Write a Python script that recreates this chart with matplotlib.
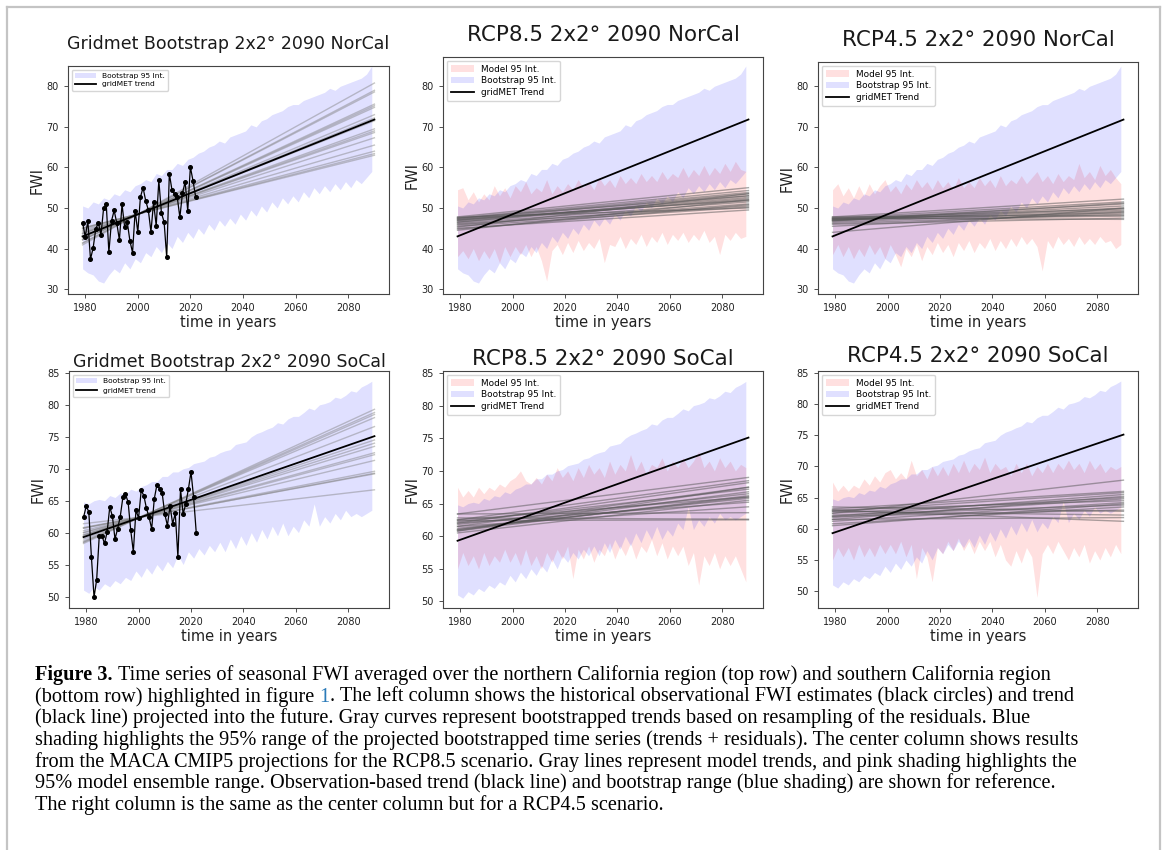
import numpy as np
import matplotlib
matplotlib.use("Agg")
import matplotlib.pyplot as plt

# ---------------- data ----------------
band_years = np.arange(1979, 2090, 2)        # 1979 .. 2089
obs_years = np.arange(1979, 2023)            # 1979 .. 2022
trend_years = [1979, 2090]

obs_norcal = [46.4, 42.9, 46.8, 37.4, 40.1, 44.8, 46.4, 43.4, 50.0, 50.9, 39.1, 46.8, 49.4, 46.3, 42.1,
              50.9, 45.3, 46.5, 41.9, 39.0, 49.3, 44.0, 52.7, 55.0, 51.8, 49.5, 44.1, 51.4, 45.6, 56.8,
              48.7, 46.6, 37.8, 58.5, 54.4, 53.4, 52.7, 47.7, 53.7, 56.4, 49.3, 60.1, 56.7, 52.8]
obs_socal = [62.4, 64.1, 63.3, 56.2, 49.9, 52.6, 59.5, 59.5, 58.3, 60.1, 64.0, 62.6, 59.0, 60.6, 62.5,
             65.5, 66.0, 64.8, 60.4, 57.0, 63.5, 62.3, 66.6, 65.8, 63.8, 62.4, 60.6, 65.3, 67.5, 66.9,
             66.2, 62.9, 61.1, 64.2, 61.4, 63.0, 56.2, 66.8, 62.9, 64.5, 66.8, 69.5, 65.5, 60.0]

trend_norcal = [43.0, 71.8]
trend_socal = [59.3, 75.1]

boot_norcal_hi = [50.5, 50.0, 51.5, 51.0, 52.5, 52.0, 53.5, 53.0, 54.5, 54.0, 55.5, 56.0, 57.0, 56.5,
                  58.5, 58.0, 59.5, 59.5, 61.0, 60.5, 62.0, 62.5, 63.5, 64.0, 65.0, 65.5, 66.5, 66.0,
                  67.5, 68.0, 68.5, 69.0, 70.5, 70.0, 71.5, 72.0, 73.0, 73.5, 74.0, 75.0, 75.5, 75.5,
                  76.5, 77.0, 77.5, 78.0, 78.5, 79.5, 79.0, 80.0, 80.5, 81.0, 81.5, 82.0, 83.0, 85.0]
boot_norcal_lo = [35.0, 34.0, 33.5, 32.0, 31.5, 33.5, 35.0, 34.0, 36.5, 35.0, 37.5, 36.5, 39.0, 38.0,
                  40.5, 39.0, 41.5, 40.0, 43.0, 41.5, 44.0, 42.5, 45.0, 43.5, 46.0, 44.5, 47.0, 45.5,
                  47.5, 46.0, 48.5, 47.0, 49.5, 48.0, 50.5, 49.0, 51.5, 50.0, 52.5, 51.0, 53.0, 51.5,
                  54.0, 52.5, 55.0, 53.5, 55.5, 54.0, 56.0, 54.5, 56.5, 55.0, 57.0, 56.0, 57.5, 59.0]
boot_socal_hi = [64.8, 64.5, 65.0, 65.2, 65.0, 65.8, 65.5, 66.2, 66.0, 66.8, 66.5, 67.2, 67.5, 68.0,
                 68.0, 68.8, 68.8, 69.5, 69.5, 70.0, 70.2, 70.8, 71.0, 71.2, 71.8, 72.0, 72.5, 72.8,
                 73.0, 73.8, 74.0, 74.2, 75.0, 75.5, 75.8, 76.2, 76.5, 77.2, 77.0, 77.8, 78.2, 78.2,
                 78.8, 79.5, 79.2, 80.0, 80.2, 80.5, 81.2, 81.0, 81.5, 82.2, 82.0, 82.8, 83.2, 83.7]
boot_socal_lo = [51.0, 50.5, 51.5, 51.0, 52.0, 51.5, 52.5, 52.0, 53.0, 52.5, 54.0, 53.0, 54.5, 53.5,
                 55.0, 54.0, 55.5, 54.5, 56.5, 55.0, 57.0, 56.0, 57.5, 56.5, 58.0, 57.0, 58.5, 57.0,
                 59.0, 57.5, 59.5, 58.0, 60.0, 58.5, 60.5, 59.0, 61.0, 59.5, 61.5, 59.5, 61.0, 60.0,
                 62.0, 61.0, 64.5, 61.0, 62.5, 61.5, 63.0, 62.0, 63.5, 62.5, 63.0, 62.5, 63.0, 63.5]

rcp85_norcal_hi = [54.5, 55.0, 52.0, 54.0, 51.5, 53.5, 52.0, 55.5, 53.0, 55.0, 52.5, 55.5, 54.0, 56.5,
                   53.5, 55.0, 54.0, 57.0, 53.5, 55.5, 54.0, 56.0, 54.5, 57.0, 55.0, 56.5, 54.5, 57.5,
                   55.5, 57.0, 55.0, 58.0, 56.0, 57.5, 56.0, 58.5, 56.5, 58.0, 56.5, 59.0, 57.0, 58.5,
                   57.5, 60.0, 57.5, 59.5, 58.0, 60.5, 58.0, 60.0, 58.5, 61.0, 59.0, 61.5, 59.5, 59.0]
rcp85_norcal_lo = [38.0, 39.5, 37.5, 40.0, 37.0, 39.5, 37.5, 40.0, 36.5, 40.5, 38.0, 40.5, 38.5, 41.0,
                   38.0, 40.5, 37.0, 32.0, 39.5, 41.0, 38.5, 41.5, 39.0, 42.0, 39.5, 41.5, 40.0, 42.5,
                   36.5, 41.0, 40.5, 43.0, 40.0, 42.5, 41.0, 43.5, 40.5, 43.0, 41.5, 44.0, 41.0, 43.5,
                   42.0, 44.0, 41.5, 43.5, 42.0, 44.5, 41.5, 43.0, 38.5, 43.5, 42.0, 44.0, 42.5, 43.0]
rcp45_norcal_hi = [54.5, 56.0, 53.0, 55.0, 52.5, 55.5, 53.0, 56.0, 53.5, 55.5, 57.0, 54.0, 55.5, 53.5,
                   56.0, 54.5, 57.0, 55.0, 56.5, 54.5, 57.0, 55.0, 56.5, 54.5, 57.5, 55.0, 56.5, 55.0,
                   57.5, 55.5, 57.0, 55.0, 58.0, 55.5, 57.0, 56.0, 58.0, 56.0, 57.5, 59.0, 56.5, 58.0,
                   56.0, 58.5, 56.5, 58.0, 57.0, 61.0, 57.5, 59.0, 57.0, 60.5, 58.0, 59.5, 57.5, 56.0]
rcp45_norcal_lo = [38.5, 41.0, 38.0, 40.5, 37.5, 40.0, 38.0, 41.0, 38.5, 40.5, 37.5, 41.0, 38.5, 35.5,
                   40.0, 38.0, 41.0, 37.0, 40.5, 38.5, 41.5, 39.0, 41.0, 38.0, 41.5, 39.5, 42.0, 39.0,
                   41.5, 40.0, 42.5, 39.5, 42.0, 40.0, 42.5, 40.5, 43.0, 41.0, 42.5, 40.5, 34.5, 42.0,
                   40.0, 43.0, 41.0, 42.5, 40.5, 43.0, 41.0, 42.5, 41.0, 43.0, 41.5, 42.0, 40.0, 41.0]
rcp85_socal_hi = [67.5, 66.0, 67.0, 66.0, 67.5, 66.5, 67.5, 67.0, 68.0, 67.5, 68.5, 69.0, 70.0, 68.5,
                  68.0, 69.0, 68.0, 69.5, 68.5, 70.5, 69.0, 70.0, 68.5, 70.5, 69.0, 71.0, 69.5, 70.5,
                  69.0, 71.5, 69.5, 71.0, 70.0, 72.5, 70.0, 71.5, 69.5, 71.0, 70.5, 72.0, 70.0, 71.5,
                  70.5, 72.0, 70.5, 71.5, 73.0, 70.5, 71.5, 70.0, 72.0, 70.5, 71.5, 70.0, 71.0, 70.5]
rcp85_socal_lo = [55.0, 57.5, 55.5, 57.0, 55.0, 57.5, 55.5, 57.0, 56.0, 58.0, 56.0, 57.5, 55.5, 58.0,
                  55.5, 57.0, 55.0, 57.5, 56.0, 58.0, 56.5, 58.5, 53.5, 58.0, 56.5, 58.5, 56.0, 58.0,
                  57.0, 59.0, 56.5, 58.5, 57.0, 59.0, 56.5, 58.5, 57.5, 59.5, 57.0, 59.0, 56.5, 58.5,
                  57.0, 58.5, 55.5, 57.5, 52.5, 57.0, 55.5, 57.5, 55.0, 57.0, 55.5, 57.0, 55.0, 53.0]
rcp45_socal_hi = [67.5, 66.0, 67.0, 66.0, 67.0, 66.5, 68.0, 67.0, 68.5, 67.5, 69.0, 69.5, 68.0, 69.0,
                  68.0, 71.0, 68.5, 69.5, 68.0, 70.0, 68.5, 70.0, 68.5, 70.5, 69.0, 71.0, 69.0, 70.5,
                  69.5, 71.5, 69.0, 70.5, 69.5, 70.0, 68.5, 70.5, 69.0, 70.5, 68.5, 70.0, 69.0, 70.5,
                  69.0, 70.5, 69.5, 71.0, 69.5, 70.5, 69.0, 71.0, 69.5, 70.5, 69.0, 70.0, 69.5, 70.0]
rcp45_socal_lo = [55.0, 57.0, 55.5, 57.0, 55.0, 57.5, 55.5, 57.0, 55.5, 57.5, 56.0, 57.5, 56.0, 58.0,
                  55.5, 57.5, 52.0, 57.0, 55.5, 51.5, 57.0, 56.0, 58.0, 56.5, 58.5, 56.5, 58.0, 56.0,
                  58.0, 56.5, 58.0, 55.5, 57.5, 55.0, 54.0, 56.5, 54.5, 57.0, 55.5, 49.0, 56.0, 57.5,
                  56.0, 58.0, 56.5, 55.0, 57.0, 55.5, 57.5, 54.5, 56.5, 55.0, 57.0, 55.5, 57.5, 56.0]

# gray trend lines: (value at 1979, value at 2090)
boot_lines_norcal = [(40.9, 80.8), (41.3, 79.0), (41.4, 78.6), (42.1, 75.6), (42.2, 75.2), (42.3, 74.8),
                     (42.7, 73.0), (42.9, 72.2), (43.1, 71.5), (43.6, 69.5), (43.7, 69.0), (43.8, 68.6),
                     (44.1, 67.3), (44.5, 65.5), (44.9, 64.0), (45.0, 63.4), (45.1, 63.0)]
boot_lines_socal = [(58.3, 79.3), (58.5, 78.8), (58.5, 78.5), (58.7, 78.0), (59.0, 76.6), (59.5, 74.5),
                    (59.6, 74.0), (59.7, 73.5), (60.0, 72.5), (60.0, 72.2), (60.3, 71.3), (60.7, 69.6),
                    (60.7, 69.3), (60.8, 69.2), (61.4, 66.7)]
model_lines_rcp85_norcal = [(47.8, 55.0), (47.5, 54.3), (47.3, 53.8), (47.0, 53.5), (47.5, 53.0), (46.8, 52.6),
                            (46.5, 52.3), (47.2, 51.8), (46.2, 51.5), (45.8, 51.0), (46.0, 50.5), (45.5, 50.2),
                            (45.0, 49.5), (44.5, 52.0), (46.5, 53.0), (47.0, 52.0), (44.8, 50.8), (45.3, 53.5),
                            (47.7, 50.0)]
model_lines_rcp45_norcal = [(47.8, 52.2), (47.5, 51.5), (47.2, 51.0), (47.0, 50.5), (46.8, 50.0), (47.5, 49.8),
                            (47.0, 49.5), (46.5, 49.2), (47.3, 48.8), (46.2, 48.5), (47.8, 48.2), (46.0, 47.5),
                            (47.5, 47.2), (44.0, 50.0), (45.5, 49.0), (46.8, 51.2), (47.2, 48.0)]
model_lines_rcp85_socal = [(63.4, 69.0), (62.5, 68.5), (62.0, 68.2), (61.5, 67.5), (62.2, 67.2), (61.0, 66.8),
                           (61.8, 66.5), (60.8, 66.2), (62.5, 66.0), (61.2, 65.8), (60.5, 65.5), (62.0, 65.2),
                           (63.4, 63.6), (62.4, 62.5), (61.5, 64.5), (60.8, 67.5), (62.8, 62.6), (61.0, 66.0)]
model_lines_rcp45_socal = [(62.5, 67.8), (63.2, 66.0), (62.8, 65.8), (62.0, 65.5), (61.5, 65.2), (62.5, 65.0),
                           (61.8, 64.8), (63.0, 64.5), (61.2, 64.2), (62.2, 63.8), (60.8, 63.5), (63.5, 62.8),
                           (62.8, 62.2), (61.5, 61.8), (63.0, 61.2), (60.5, 64.0), (62.0, 63.0)]

titles = ["Gridmet Bootstrap 2x2\u00b0 2090 NorCal", "RCP8.5 2x2\u00b0 2090 NorCal", "RCP4.5 2x2\u00b0 2090 NorCal",
          "Gridmet Bootstrap 2x2\u00b0 2090 SoCal", "RCP8.5 2x2\u00b0 2090 SoCal", "RCP4.5 2x2\u00b0 2090 SoCal"]

caption_lines = [
    [("Figure 3.", "bold", "black"), (" Time series of seasonal FWI averaged over the northern California region (top row) and southern California region", "normal", "black")],
    [("(bottom row) highlighted in figure ", "normal", "black"), ("1", "normal", "#2b7bb9"), (". The left column shows the historical observational FWI estimates (black circles) and trend", "normal", "black")],
    [("(black line) projected into the future. Gray curves represent bootstrapped trends based on resampling of the residuals. Blue", "normal", "black")],
    [("shading highlights the 95% range of the projected bootstrapped time series (trends + residuals). The center column shows results", "normal", "black")],
    [("from the MACA CMIP5 projections for the RCP8.5 scenario. Gray lines represent model trends, and pink shading highlights the", "normal", "black")],
    [("95% model ensemble range. Observation-based trend (black line) and bootstrap range (blue shading) are shown for reference.", "normal", "black")],
    [("The right column is the same as the center column but for a RCP4.5 scenario.", "normal", "black")],
]

# ---------------- figure ----------------
W, H = 1167, 850
fig = plt.figure(figsize=(W / 100, H / 100), dpi=100)
fig.patch.set_facecolor("white")

def add_ax(l, t, r, b):
    return fig.add_axes([l / W, 1 - b / H, (r - l) / W, (b - t) / H])

BLUE = (0.0, 0.0, 1.0)
RED = (1.0, 0.0, 0.0)
BAND_ALPHA = 0.12
BOOT_GRAY = dict(color="gray", alpha=0.45, lw=1.0)
MODEL_GRAY = dict(color="#555555", alpha=0.5, lw=1.0)

def style(ax, ylim, yticks, title, tsize, tpad):
    ax.set_xlim(1973.45, 2095.55)
    ax.set_ylim(*ylim)
    ax.set_yticks(yticks)
    ax.set_xticks([1980, 2000, 2020, 2040, 2060, 2080])
    ax.tick_params(labelsize=7, length=3, width=0.6, colors="#333333", labelcolor="#222222")
    for s in ax.spines.values():
        s.set_linewidth(0.8)
        s.set_color("#444444")
    ax.set_xlabel("time in years", fontsize=10.5, color="#222222", labelpad=1.5)
    ax.set_ylabel("FWI", fontsize=10.5, color="#222222", labelpad=1.5)
    ax.set_title(title, fontsize=tsize, pad=tpad, color="#1a1a1a")

def boot_panel(ax, obs, trend, lo, hi, lines, lspace):
    ax.fill_between(band_years, lo, hi, color=BLUE, alpha=BAND_ALPHA, lw=0, label="Bootstrap 95 Int.")
    for a, b in lines:
        ax.plot(trend_years, [a, b], **BOOT_GRAY)
    ax.plot(trend_years, trend, color="black", lw=1.3, label="gridMET trend")
    ax.plot(obs_years, obs, color="black", lw=0.9, marker="o", ms=2.6)
    ax.legend(loc="upper left", fontsize=5.4, frameon=True, handlelength=2.8, borderpad=0.45,
              labelspacing=lspace, fancybox=True, framealpha=0.8, edgecolor="#cccccc",
              borderaxespad=0.5)

def model_panel(ax, trend, blo, bhi, mlo, mhi, lines):
    ax.fill_between(band_years, mlo, mhi, color=RED, alpha=BAND_ALPHA, lw=0, label="Model 95 Int.")
    ax.fill_between(band_years, blo, bhi, color=BLUE, alpha=BAND_ALPHA, lw=0, label="Bootstrap 95 Int.")
    for a, b in lines:
        ax.plot(trend_years, [a, b], **MODEL_GRAY)
    ax.plot(trend_years, trend, color="black", lw=1.3, label="gridMET Trend")
    ax.legend(loc="upper left", fontsize=6.4, frameon=True, handlelength=2.6, borderpad=0.45,
              labelspacing=0.3, fancybox=True, framealpha=0.8, edgecolor="#cccccc",
              borderaxespad=0.4)

ax1 = add_ax(68, 66, 389, 294)
boot_panel(ax1, obs_norcal, trend_norcal, boot_norcal_lo, boot_norcal_hi, boot_lines_norcal, 0.2)
style(ax1, (28.8, 85.0), [30, 40, 50, 60, 70, 80], titles[0], 12.5, 12)

ax2 = add_ax(443, 57, 763, 294)
model_panel(ax2, trend_norcal, boot_norcal_lo, boot_norcal_hi, rcp85_norcal_lo, rcp85_norcal_hi, model_lines_rcp85_norcal)
style(ax2, (28.8, 87.2), [30, 40, 50, 60, 70, 80], titles[1], 15.4, 11.5)

ax3 = add_ax(818, 62, 1138, 294)
model_panel(ax3, trend_norcal, boot_norcal_lo, boot_norcal_hi, rcp45_norcal_lo, rcp45_norcal_hi, model_lines_rcp45_norcal)
style(ax3, (28.8, 86.0), [30, 40, 50, 60, 70, 80], titles[2], 15.4, 11.5)

ax4 = add_ax(69, 371, 389, 608)
boot_panel(ax4, obs_socal, trend_socal, boot_socal_lo, boot_socal_hi, boot_lines_socal, 0.45)
style(ax4, (48.2, 85.3), [50, 55, 60, 65, 70, 75, 80, 85], titles[3], 12.5, 3)

ax5 = add_ax(443, 371, 763, 608)
model_panel(ax5, trend_socal, boot_socal_lo, boot_socal_hi, rcp85_socal_lo, rcp85_socal_hi, model_lines_rcp85_socal)
style(ax5, (49.0, 85.3), [50, 55, 60, 65, 70, 75, 80, 85], titles[4], 15.4, 4.5)

ax6 = add_ax(818, 371, 1138, 608)
model_panel(ax6, trend_socal, boot_socal_lo, boot_socal_hi, rcp45_socal_lo, rcp45_socal_hi, model_lines_rcp45_socal)
style(ax6, (47.3, 85.3), [50, 55, 60, 65, 70, 75, 80, 85], titles[5], 15.4, 6.5)

# ---------------- frame ----------------
frame_kw = dict(color="#c4c4c4", lw=1.6, transform=fig.transFigure, clip_on=False)
fig.add_artist(plt.Line2D([7 / W, 7 / W], [0, 1 - 7 / H], **frame_kw))
fig.add_artist(plt.Line2D([7 / W, 1160 / W], [1 - 7 / H, 1 - 7 / H], **frame_kw))
fig.add_artist(plt.Line2D([1160 / W, 1160 / W], [0, 1 - 7 / H], **frame_kw))

# ---------------- caption ----------------
renderer = fig.canvas.get_renderer()
CAP_FONT = ["Liberation Serif", "DejaVu Serif"]

def text_width(s, size, weight):
    t = fig.text(0, 0, s, fontsize=size, fontweight=weight, family=CAP_FONT)
    w = t.get_window_extent(renderer).width
    t.remove()
    return w

# fit the font so that the longest line spans the same width as in the reference
ref_line = caption_lines[3][0][0]
target = 1075 - 35
size = 13.0 * target / text_width(ref_line, 13.0, "normal")
space_w = text_width("a a", size, "normal") - text_width("aa", size, "normal")

baselines = [680, 701.7, 723.3, 745, 766.7, 788.3, 810]
for segs, yb in zip(caption_lines, baselines):
    x = 35.0
    for s, weight, color in segs:
        lead = len(s) - len(s.lstrip(" "))
        trail = len(s) - len(s.rstrip(" "))
        core = s.strip(" ")
        x += lead * space_w
        fig.text(x / W, 1 - yb / H, core, fontsize=size, fontweight=weight, color=color,
                 family=CAP_FONT, va="baseline", ha="left")
        x += text_width(core, size, weight) + trail * space_w

fig.savefig("out.png", dpi=100, facecolor="white")
